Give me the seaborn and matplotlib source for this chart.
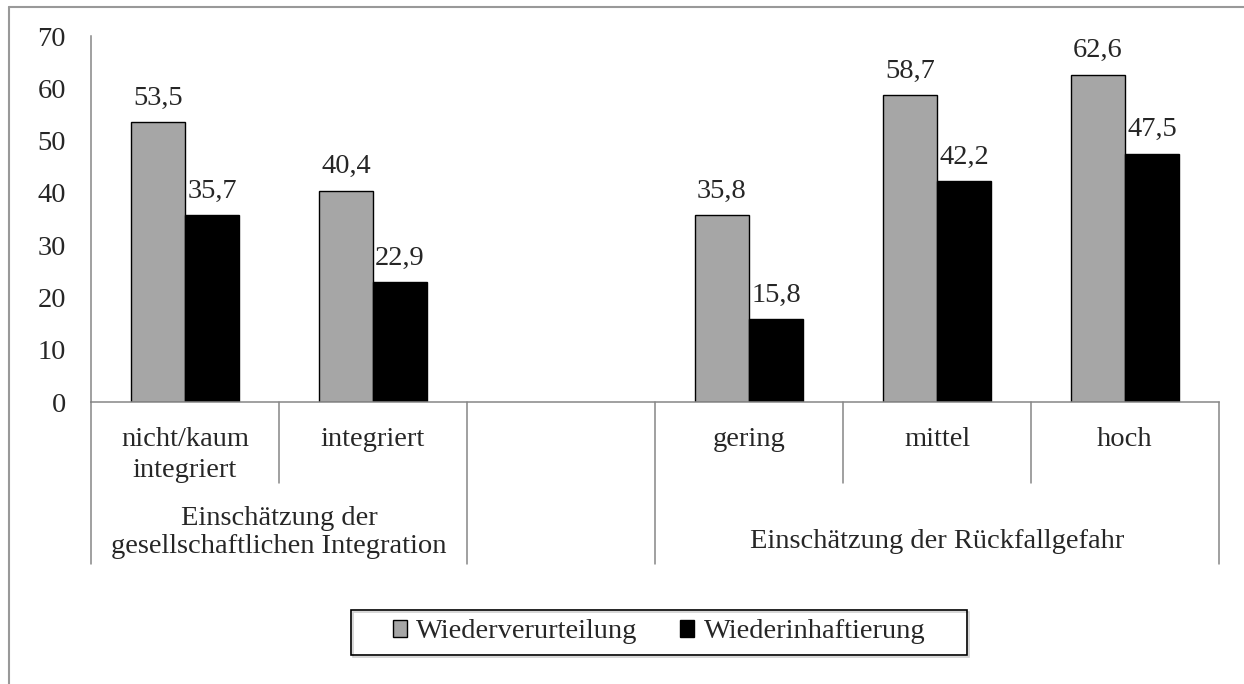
import pandas as pd
import seaborn as sns
import matplotlib.pyplot as plt
from matplotlib.patches import Rectangle, Patch
from matplotlib.lines import Line2D

# data
slots = ['nicht/kaum\nintegriert', 'integriert', '', 'gering', 'mittel', 'hoch']
kategorien = ['nicht/kaum\nintegriert', 'integriert', 'gering', 'mittel', 'hoch']
wiederverurteilung = [53.5, 40.4, 35.8, 58.7, 62.6]
wiederinhaftierung = [35.7, 22.9, 15.8, 42.2, 47.5]
reihen = ['Wiederverurteilung', 'Wiederinhaftierung']
gruppen = ['Einschätzung der\ngesellschaftlichen Integration', 'Einschätzung der Rückfallgefahr']

df = pd.DataFrame({
    'kategorie': kategorien * 2,
    'wert': wiederverurteilung + wiederinhaftierung,
    'reihe': [reihen[0]] * 5 + [reihen[1]] * 5,
})

sns.set_style('white')
plt.rcParams['font.family'] = ['Liberation Serif', 'DejaVu Serif']
FS = 20.5
GRAU = '#868686'

W, H = 1244, 684
fig = plt.figure(figsize=(W / 100, H / 100), dpi=100)
ax = fig.add_axes([91 / W, 1 - 402 / H, (1219 - 91) / W, (402 - 36) / H])

sns.barplot(data=df, x='kategorie', y='wert', hue='reihe', order=slots,
            hue_order=reihen, palette=['#a6a6a6', '#000000'],
            edgecolor='black', linewidth=1.0, width=0.575, gap=0,
            saturation=1, errorbar=None, legend=False, ax=ax)

ax.set_xlim(-0.5, 5.5)
ax.set_ylim(0, 70)
ax.set_yticks(range(0, 80, 10))
ax.set_xlabel('')
ax.set_ylabel('')
ax.tick_params(axis='y', length=6, width=1.1, color=GRAU, pad=12, labelsize=FS)
ax.tick_params(axis='x', length=0, pad=18, labelsize=FS)
for lbl in ax.get_xticklabels():
    lbl.set_linespacing(1.3)
    lbl.set_va('top')
for s in ['top', 'right']:
    ax.spines[s].set_visible(False)
for s in ['left', 'bottom']:
    ax.spines[s].set_color(GRAU)
    ax.spines[s].set_linewidth(1.1)

# value labels
for cont in ax.containers:
    for bar in cont:
        h = bar.get_height()
        ax.annotate(f'{h:.1f}'.replace('.', ','),
                    (bar.get_x() + bar.get_width() / 2, h),
                    xytext=(0, 12.5), textcoords='offset points',
                    ha='center', va='baseline', fontsize=FS)

# category dividers (two tiers)
tr = ax.get_xaxis_transform()
tief1 = (402 - 483) / 366
tief2 = (402 - 564) / 366
for xb in [-0.5, 0.5, 1.5, 2.5, 3.5, 4.5, 5.5]:
    unten = tief2 if xb in (-0.5, 1.5, 2.5, 5.5) else tief1
    ax.add_line(Line2D([xb, xb], [0, unten], transform=tr, color=GRAU,
                       lw=1.1, clip_on=False))

ax.text(0.5, (402 - 506) / 366, gruppen[0], transform=tr, ha='center',
        va='top', fontsize=FS, linespacing=1.15)
ax.text(4.0, (402 - 529) / 366, gruppen[1], transform=tr, ha='center',
        va='top', fontsize=FS)

# legend
handles = [Patch(facecolor='#a6a6a6', edgecolor='black', linewidth=1.0),
           Patch(facecolor='#000000', edgecolor='black', linewidth=1.0)]
fig.legend(handles, reihen, loc='center', bbox_to_anchor=(659 / W, 1 - 632 / H),
           ncol=2, frameon=False, fontsize=FS, handlelength=0.5,
           handleheight=0.5, handletextpad=0.32, columnspacing=1.5,
           borderpad=0.2)
fig.patches.append(Rectangle((353 / W, 1 - 657 / H), (967 - 351) / W, 45 / H,
                             transform=fig.transFigure, fill=False,
                             edgecolor='#d0d0d0', linewidth=1.2))
fig.patches.append(Rectangle((351 / W, 1 - 655 / H), (967 - 351) / W, 45 / H,
                             transform=fig.transFigure, fill=False,
                             edgecolor='black', linewidth=1.2))

# outer chart frame
fig.add_artist(Line2D([9 / W, 9 / W], [0, 1 - 7 / H], transform=fig.transFigure,
                      color='#999999', lw=1.5))
fig.add_artist(Line2D([9 / W, 1], [1 - 7 / H, 1 - 7 / H], transform=fig.transFigure,
                      color='#999999', lw=1.5))

fig.savefig('out.png', dpi=100)
